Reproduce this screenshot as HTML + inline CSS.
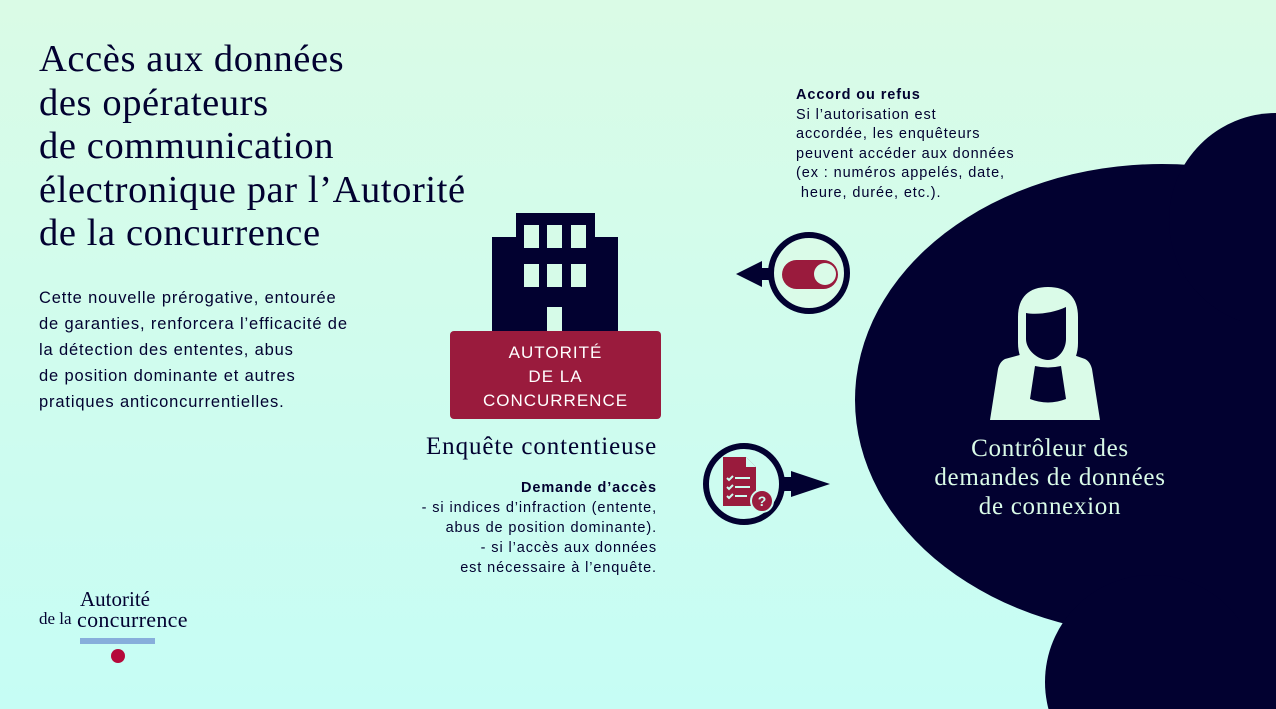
<!DOCTYPE html>
<html><head><meta charset="utf-8"><style>
body{margin:0;width:1276px;height:709px;overflow:hidden;position:relative;background:linear-gradient(#dafbe6,#c6fdf5);font-family:"Liberation Sans",sans-serif;color:#020130}
.t{position:absolute;white-space:nowrap}
h1{position:absolute;left:39px;top:38px;margin:0;font:400 38.5px/43.5px "Liberation Serif",serif;letter-spacing:0.6px;color:#020130}
</style></head><body>
<svg width="1276" height="709" style="position:absolute;left:0;top:0;overflow:hidden">
<g fill="#020130">
<ellipse cx="1162" cy="400" rx="307" ry="236"/>
<circle cx="1276" cy="220" r="107"/>
<circle cx="1152" cy="682" r="107"/>
<rect x="1240" y="200" width="40" height="509"/>
<rect x="516" y="213" width="79" height="30"/>
<rect x="492" y="237" width="126" height="100"/>
</g>
<g fill="#d6fbe8">
<rect x="524" y="225" width="15" height="23"/><rect x="547" y="225" width="15" height="23"/><rect x="571" y="225" width="15" height="23"/>
<rect x="524" y="264" width="15" height="23"/><rect x="547" y="264" width="15" height="23"/><rect x="571" y="264" width="15" height="23"/>
<rect x="547" y="307" width="15" height="30"/>
</g>
<rect x="450" y="331" width="211" height="88" rx="4" fill="#9a1b3d"/>
<circle cx="809" cy="273" r="38" fill="#dafbe8" stroke="#020130" stroke-width="6"/>
<polygon points="736,274 762,261 762,287" fill="#020130"/>
<rect x="760" y="268" width="12" height="12" fill="#020130"/>
<rect x="782" y="260" width="56" height="29" rx="14.5" fill="#9a1b3d"/>
<circle cx="825" cy="274" r="11" fill="#dafbe8"/>
<circle cx="744" cy="484" r="38" fill="#cdfcf0" stroke="#020130" stroke-width="6"/>
<polygon points="830,484 791,471 791,497" fill="#020130"/>
<rect x="780" y="477" width="12" height="14" fill="#020130"/>
<path d="M723 457h23l10 10v39h-33z" fill="#9a1b3d"/>
<path d="M746 457v10h10" fill="#cdfcf0"/>
<g stroke="#cdfcf0" stroke-width="2" fill="none">
<path d="M727 478l2 2 4-4M727 487l2 2 4-4M727 496l2 2 4-4"/>
<path d="M735 478h15M735 487h15M735 496h12"/>
</g>
<circle cx="762" cy="501" r="11" fill="#9a1b3d" stroke="#cdfcf0" stroke-width="2"/>
<text x="762" y="506" font-family="Liberation Sans" font-weight="bold" font-size="14" fill="#cdfcf0" text-anchor="middle">?</text>
<g fill="#dafbe8">
<path d="M1048 287c-19 0-30 10-30 30v26c0 20 13 35 30 35s30-15 30-35v-26c0-20-11-30-30-30z"/>
<path d="M1031 352c3 10 9 14 17 14s14-4 17-14l20 7c4 2 6 6 7 10l8 51h-110l8-51c1-4 3-8 7-10z"/>
</g>
<path d="M1026 313c11 2 27 0 40-6l0 32c0 11-8 21-18 21s-22-10-22-21z" fill="#020130"/>
<path d="M1035 366q13 3 26 0l5 33q-18 7-36 0z" fill="#020130"/>
<rect x="80" y="638" width="75" height="6" fill="#87aedb"/>
<circle cx="118" cy="656" r="7" fill="#b5093a"/>
</svg>
<h1>Accès aux données<br>des opérateurs<br>de communication<br>électronique par l’Autorité<br>de la concurrence</h1>
<div class="t" style="left:39px;top:285px;font-size:16.5px;line-height:26px;letter-spacing:0.85px">Cette nouvelle prérogative, entourée<br>de garanties, renforcera l’efficacité de<br>la détection des ententes, abus<br>de position dominante et autres<br>pratiques anticoncurrentielles.</div>
<div class="t" style="left:450px;top:341px;width:211px;text-align:center;color:#fff;font-size:17px;line-height:24px;letter-spacing:1px">AUTORITÉ<br>DE LA<br>CONCURRENCE</div>
<div class="t" style="left:426px;top:432px;font:400 25px/30px 'Liberation Serif',serif;letter-spacing:0.9px">Enquête contentieuse</div>
<div class="t" style="right:619px;top:478px;text-align:right;font-size:14.5px;line-height:20px;letter-spacing:0.9px"><b>Demande d’accès</b><br>- si indices d’infraction (entente,<br>abus de position dominante).<br>- si l’accès aux données<br>est nécessaire à l’enquête.</div>
<div class="t" style="left:796px;top:86px;font-size:14.5px;line-height:19.5px;letter-spacing:0.9px"><b>Accord ou refus</b><br>Si l’autorisation est<br>accordée, les enquêteurs<br>peuvent accéder aux données<br>(ex : numéros appelés, date,<br>&nbsp;heure, durée, etc.).</div>
<div class="t" style="left:900px;top:434px;width:300px;text-align:center;color:#dafbe8;font:400 25px/29px 'Liberation Serif',serif;letter-spacing:0.7px">Contrôleur des<br>demandes de données<br>de connexion</div>
<div class="t" style="left:80px;top:589px;font:400 21px/20px 'Liberation Serif',serif">Autorité</div>
<div class="t" style="left:39px;top:609px;font:400 17px/20px 'Liberation Serif',serif">de la</div>
<div class="t" style="left:77px;top:610px;font:400 22px/20px 'Liberation Serif',serif;letter-spacing:0.3px">concurrence</div>
</body></html>
